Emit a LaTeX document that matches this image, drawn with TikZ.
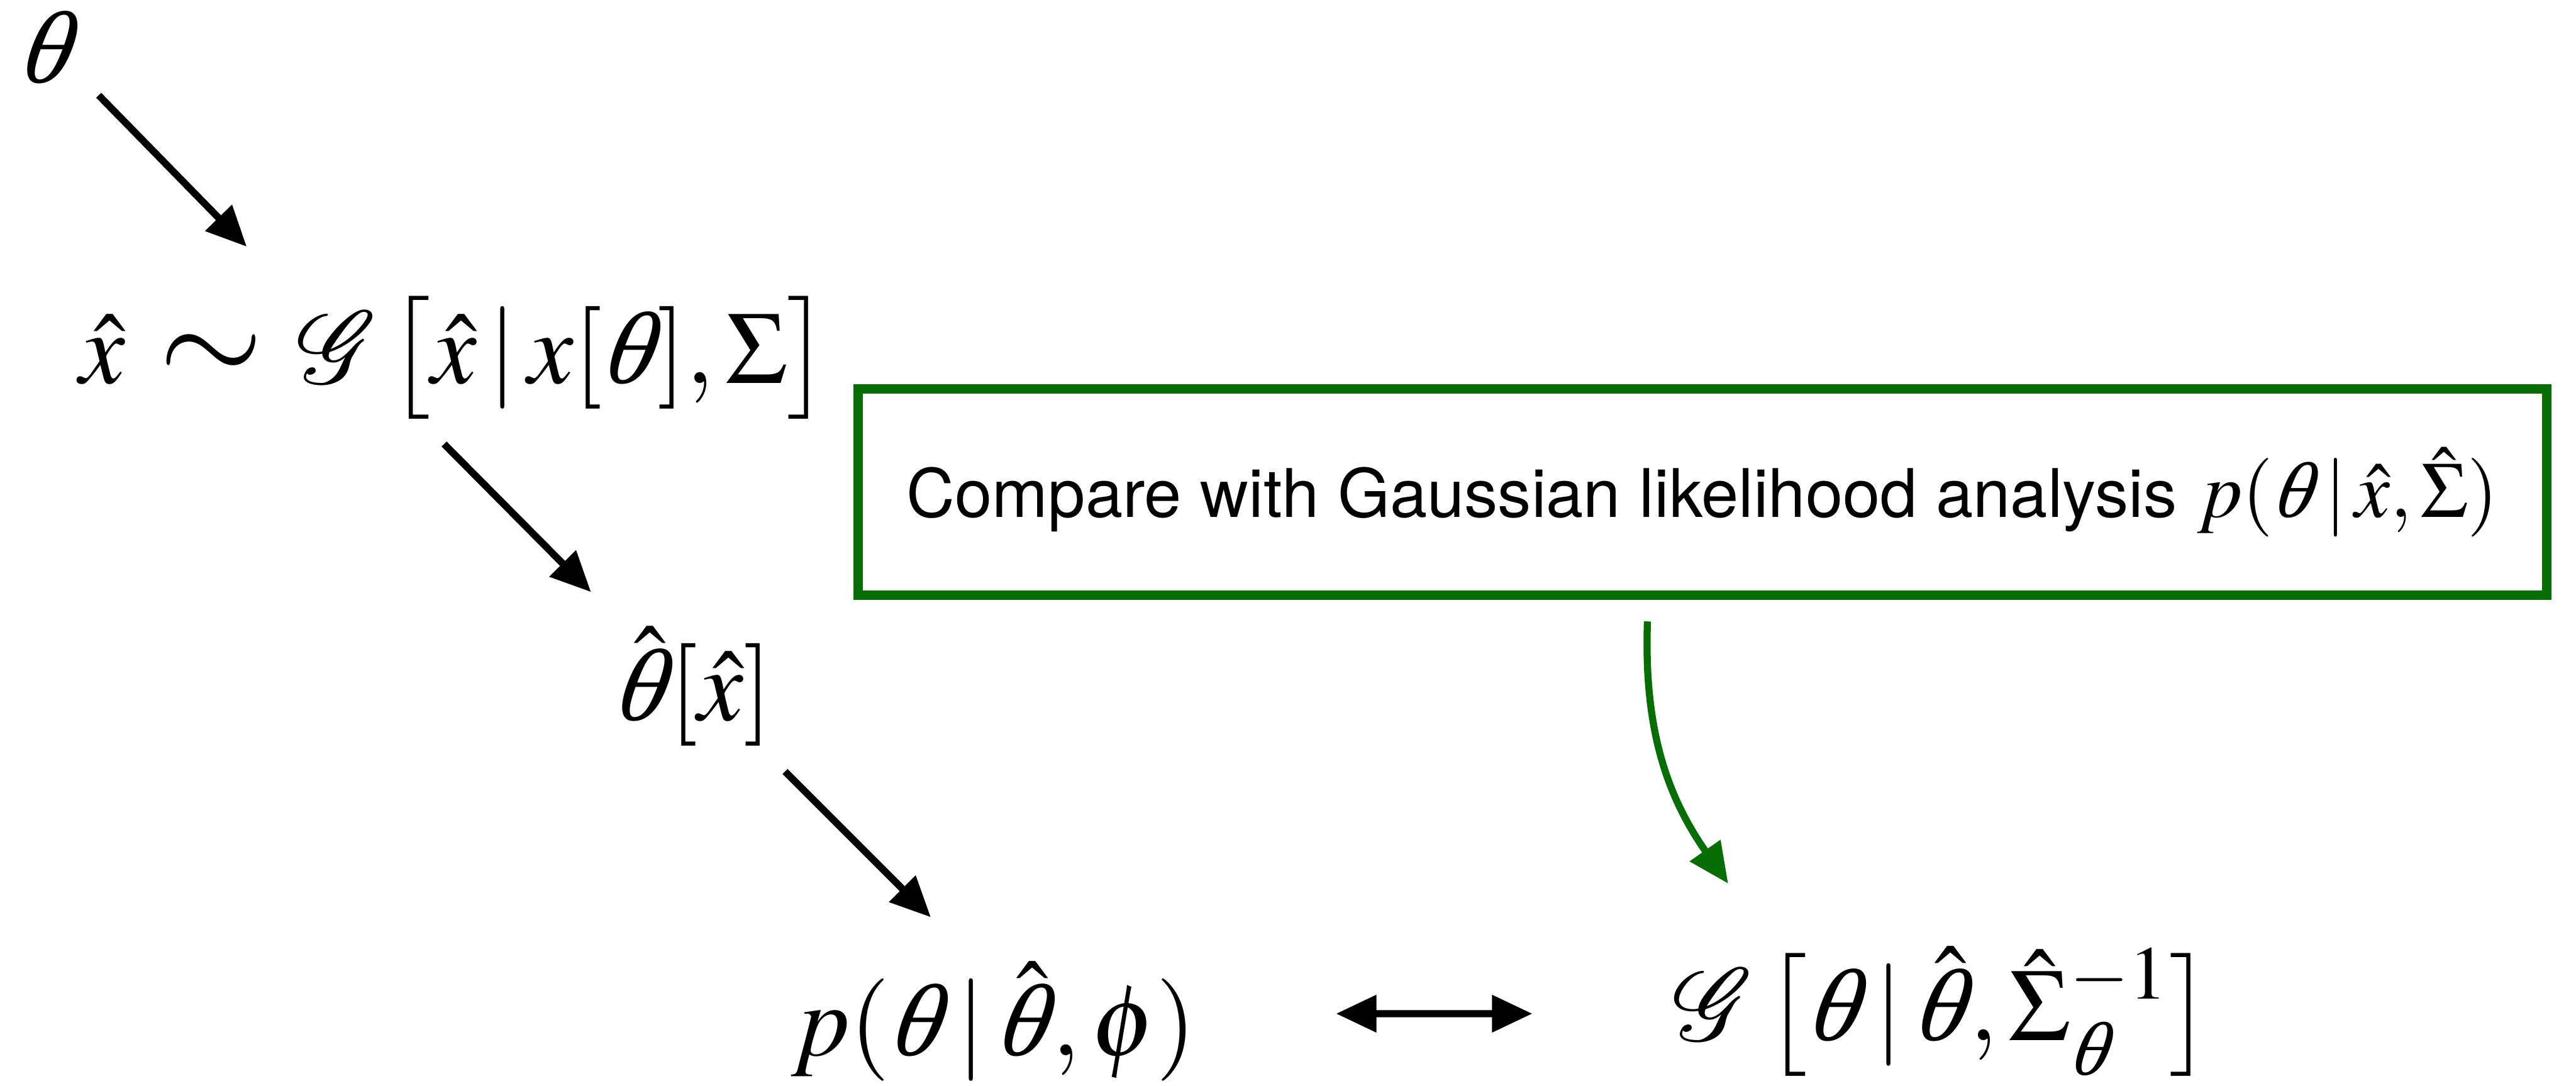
\documentclass[tikz,border=0pt]{standalone}
\usepackage{amsmath}
\usepackage{mathptmx}
\usepackage[no-math]{fontspec}
\newfontfamily\helv{TeX Gyre Heros}
\newfontfamily\tmsit[FakeSlant=0.2]{Liberation Serif Italic}
\newcommand{\vth}{\text{\tmsit θ\kern0.05em}}
\newcommand{\hvth}{\skew{3}\hat{\vth}}
\newcommand{\bigsim}{\mathrel{\scalebox{1.3}{$\sim$}}}
\usetikzlibrary{arrows.meta}
\definecolor{notegreen}{RGB}{6,110,4}

\begin{document}
\begin{tikzpicture}[
  mth/.style={inner sep=0pt, font=\fontsize{26}{31}\selectfont},
  arr/.style={-{Triangle[length=0.36cm, width=0.32cm]}, line width=1.8pt},
  dbl/.style={{Triangle[length=0.36cm, width=0.32cm]}-{Triangle[length=0.36cm, width=0.32cm]}, line width=1.8pt},
  note/.style={draw=notegreen, line width=2.4pt, minimum width=15.06cm, minimum height=1.84cm, font=\fontsize{17}{20}\selectfont}]
  \useasboundingbox (0,0) rectangle (22.97,9.68);
  % chain of estimates
  \node[mth] (theta)    at (0.42,9.26) {$\vth$};
  \node[mth] (xhat)     at (4.05,6.49) {$\hat{x}\,\bigsim\,\mathcal{G}\,\bigl[\hat{x}\,|\,x[\vth],\Sigma\bigr]$};
  \node[mth] (thetahat) at (6.18,3.56) {$\hvth[\hat{x}]$};
  \node[mth] (post)     at (8.86,0.57) {$p(\vth\,|\,\hvth,\phi)$};
  \node[mth] (gauss)    at (17.32,0.66) {$\mathcal{G}\,\bigl[\vth\,|\,\hvth,\hat{\Sigma}_{\vth}^{-1}\bigr]$};
  \node[note] (compare) at (15.18,5.29) {{\helv Compare with Gaussian likelihood analysis} {\fontsize{20}{24}\selectfont$p(\vth\,|\,\hat{x},\hat{\Sigma})$}};

  \draw[arr] ([shift={(0.46,-0.43)}]theta.center) -- ([shift={(-1.85,0.99)}]xhat.center);
  \draw[arr] ([shift={(-0.09,-0.77)}]xhat.center) -- ([shift={(-0.91,0.84)}]thetahat.center);
  \draw[arr] ([shift={(0.82,-0.76)}]thetahat.center) -- ([shift={(-0.56,0.93)}]post.center);
  \draw[dbl] ([shift={(1.24,0.07)}]post.east) -- ([shift={(-1.25,-0.02)}]gauss.west);
  \draw[arr, notegreen] ([shift={(-0.49,-0.19)}]compare.south) to[out=-92, in=125] ([shift={(-1.91,1.14)}]gauss.center);
\end{tikzpicture}
\end{document}
